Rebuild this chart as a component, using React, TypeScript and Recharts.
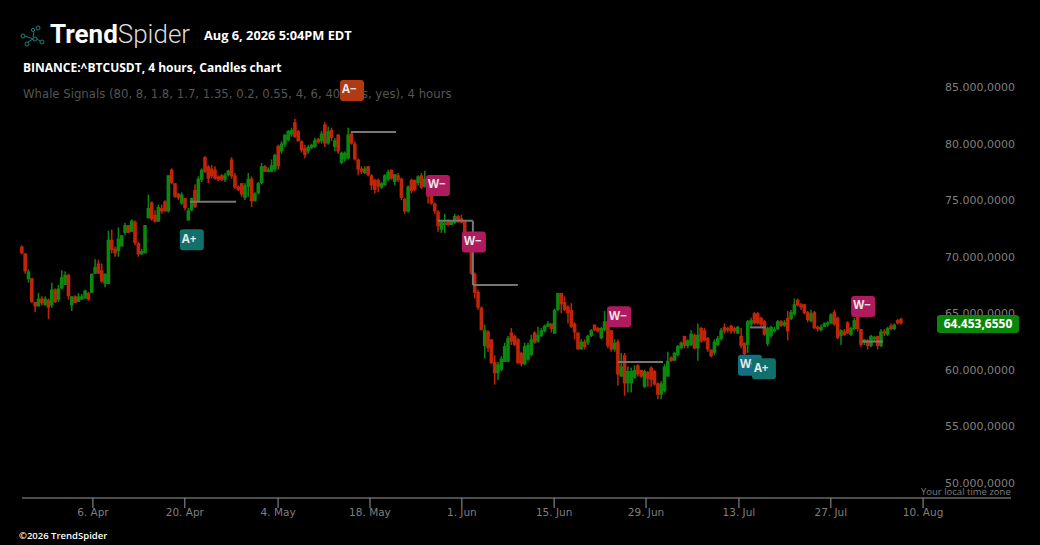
import React from 'react';
import {
  Bar, ComposedChart, ReferenceDot, ReferenceLine, XAxis, YAxis,
} from 'recharts';

// prices are in thousands, candle positions are indexes along the time axis
const opens = [
  70.9, 70.3, 68.0, 68.1, 66.0, 65.6, 66.3, 65.7, 66.2, 65.7, 67.1, 66.2, 67.2, 67.5, 68.4, 65.7, 66.5, 66.0, 66.2, 66.3, 66.8, 66.8,
  68.5, 69.4, 68.8, 67.6, 67.6, 71.5, 70.7, 70.5, 70.9, 72.1, 72.8, 72.2, 73.1, 71.2, 70.2, 70.3, 73.4, 74.8, 73.7, 73.1, 74.3, 74.9, 74.0,
  77.7, 76.5, 75.6, 74.7, 75.2, 73.2, 74.1, 75.9, 74.9, 76.8, 78.8, 78.0, 77.8, 77.7, 77.1, 77.2, 76.8, 77.2, 78.6, 77.2, 76.2, 76.5,
  75.2, 76.2, 76.9, 74.9, 75.6, 76.5, 78.0, 77.5, 77.5, 77.7, 79.8, 79.3, 79.9, 80.3, 80.8, 81.9, 81.1, 80.2, 79.6, 79.3, 79.6,
  79.7, 80.4, 80.2, 81.7, 80.0, 81.2, 79.7, 80.8, 78.3, 78.6, 78.7, 80.9, 80.0, 78.6, 77.8, 77.4, 78.0, 77.2, 76.8, 76.8, 76.1, 76.3, 76.8,
  77.7, 76.6, 77.2, 76.9, 75.1, 74.0, 76.8, 76.8, 76.5, 77.2, 76.2, 76.8, 75.5, 74.7, 74.0, 72.4, 72.8, 73.1, 72.8, 73.0, 73.6, 73.4,
  73.1, 71.8, 70.6, 68.5, 66.9, 65.5, 62.1, 63.4, 62.7, 60.7, 59.7, 60.0, 60.7, 60.7, 63.3, 63.0, 62.7, 61.5, 60.5, 60.9, 61.3, 63.3,
  62.5, 63.0, 63.4, 63.8, 64.1, 63.2, 65.3, 66.8, 66.0, 65.6, 65.3, 64.1, 63.3, 61.8, 62.5, 62.4, 63.0, 64.0, 63.7, 62.8, 63.5, 64.3,
  63.5, 61.8, 62.5, 59.4, 61.3, 58.8, 58.8, 59.3, 60.4, 60.0, 58.5, 59.8, 60.2, 59.9, 58.8, 57.8, 58.1, 59.4, 61.1, 60.8, 61.3, 61.9,
  63.0, 62.1, 62.2, 63.1, 61.9, 63.7, 63.5, 62.8, 61.8, 61.5, 62.2, 62.7, 63.8, 63.7, 63.9, 63.7, 63.2, 63.0, 62.4, 62.2, 64.0, 65.0,
  65.0, 64.6, 64.3, 62.3, 63.0, 63.4, 63.6, 64.3, 63.9, 64.6, 64.5, 64.9, 66.2, 65.8, 65.8, 65.1, 64.3, 65.1, 63.8, 63.5, 63.8, 64.0,
  64.1, 65.1, 64.6, 63.0, 63.4, 64.2, 63.1, 63.6, 64.7, 63.6, 62.4, 62.6, 62.1, 62.7, 63.0, 62.1, 63.4, 63.1, 63.9, 63.6, 64.4, 64.5,
];
const closes = [
  70.3, 68.7, 68.7, 66.0, 65.6, 66.3, 65.9, 66.3, 65.5, 67.1, 66.0, 67.2, 68.2, 68.4, 66.5, 66.5, 65.9, 66.5, 66.5, 67.0, 66.2, 68.5,
  69.1, 68.5, 67.8, 68.5, 71.5, 70.6, 70.3, 71.6, 71.9, 72.8, 72.1, 73.2, 71.2, 70.2, 70.5, 72.8, 74.3, 73.3, 73.1, 74.4, 74.0, 74.0, 77.2,
  76.5, 75.3, 75.2, 75.5, 74.3, 74.1, 75.2, 74.4, 76.9, 77.7, 77.5, 76.9, 77.1, 76.9, 76.8, 76.8, 77.2, 77.6, 77.1, 76.1, 75.9, 75.5,
  76.3, 76.9, 74.9, 75.6, 76.5, 78.0, 77.5, 77.7, 78.1, 79.0, 78.0, 80.0, 80.8, 81.1, 81.2, 80.6, 80.2, 79.4, 79.0, 79.7, 79.9,
  80.3, 80.1, 80.9, 80.0, 81.1, 80.5, 80.3, 79.3, 79.2, 79.2, 80.8, 80.0, 78.6, 77.7, 77.5, 77.8, 77.2, 76.3, 75.9, 76.2, 76.5, 77.2, 77.5,
  76.9, 77.3, 76.8, 75.2, 74.0, 76.2, 75.8, 75.9, 77.1, 76.1, 76.9, 75.3, 74.7, 74.0, 72.7, 73.1, 73.0, 72.8, 73.1, 73.6, 73.2, 73.0,
  71.8, 70.6, 68.5, 66.8, 65.5, 63.5, 63.5, 61.9, 60.6, 59.7, 60.5, 61.0, 62.1, 62.8, 62.5, 62.2, 60.6, 60.5, 62.1, 62.2, 62.7, 62.4,
  63.1, 63.5, 63.9, 64.1, 63.6, 65.3, 66.8, 65.8, 65.3, 65.0, 63.8, 63.3, 61.8, 62.5, 62.0, 63.0, 63.5, 63.5, 63.4, 63.7, 64.3, 62.1,
  61.8, 62.4, 59.6, 60.3, 58.8, 59.9, 59.9, 60.0, 59.6, 59.4, 59.9, 59.2, 59.1, 58.7, 57.8, 58.8, 60.3, 60.8, 60.8, 61.5, 62.1, 62.4,
  62.1, 62.6, 63.2, 61.9, 63.1, 62.5, 62.6, 61.8, 61.2, 62.5, 62.8, 63.5, 63.4, 63.5, 63.4, 63.4, 63.8, 62.1, 61.4, 64.3, 64.4, 64.1,
  64.1, 64.0, 63.1, 63.7, 63.8, 63.6, 64.3, 63.9, 64.2, 63.4, 65.1, 65.8, 65.7, 65.5, 65.0, 64.4, 65.0, 63.7, 63.6, 63.8, 64.1, 64.2,
  64.9, 64.0, 62.8, 63.5, 63.1, 63.2, 63.7, 64.4, 63.6, 62.2, 62.7, 62.1, 63.0, 62.9, 62.1, 63.4, 63.2, 63.7, 63.6, 64.0, 64.1, 64.1,
];
const highs = [
  71.0, 70.3, 68.9, 68.1, 66.0, 66.8, 66.5, 66.5, 66.3, 67.7, 67.2, 67.5, 68.8, 68.7, 68.5, 66.5, 66.6, 66.8, 66.7, 67.1, 66.9, 68.5,
  69.8, 69.7, 69.4, 68.5, 72.3, 72.4, 70.9, 72.6, 71.9, 73.0, 72.8, 73.3, 73.2, 71.3, 70.7, 72.8, 75.5, 74.9, 74.1, 74.6, 74.6, 75.0, 77.2,
  77.8, 76.5, 75.6, 75.7, 75.2, 74.3, 75.2, 76.4, 77.1, 77.8, 78.9, 78.1, 78.1, 78.0, 77.2, 77.3, 77.4, 77.7, 78.8, 77.4, 76.3, 76.5,
  76.5, 77.4, 77.1, 75.7, 76.6, 78.3, 78.1, 77.9, 78.6, 79.1, 79.9, 80.2, 80.8, 81.2, 81.4, 82.2, 81.2, 80.3, 79.9, 79.9, 80.0,
  80.5, 80.5, 81.1, 81.9, 81.5, 81.4, 80.5, 80.8, 79.3, 79.3, 81.4, 81.1, 80.2, 78.7, 78.0, 78.0, 78.0, 77.3, 76.9, 76.9, 76.6, 77.3, 77.7,
  77.7, 77.3, 77.4, 77.0, 75.2, 76.3, 76.9, 76.8, 77.2, 77.4, 77.6, 76.9, 75.5, 74.8, 74.1, 73.1, 73.8, 73.3, 73.2, 73.8, 73.7, 73.7,
  73.2, 71.9, 70.7, 68.6, 67.1, 65.6, 64.0, 63.5, 62.7, 61.3, 60.7, 61.2, 62.4, 63.0, 63.7, 63.1, 62.8, 61.6, 62.4, 62.4, 63.1, 63.4,
  63.8, 63.7, 64.0, 64.3, 64.1, 65.4, 66.8, 66.8, 66.5, 65.7, 65.9, 64.2, 63.3, 62.7, 62.7, 63.1, 63.6, 64.0, 63.8, 63.8, 65.2, 64.4,
  63.5, 62.7, 62.7, 61.5, 61.5, 60.3, 60.2, 60.4, 60.5, 60.0, 60.0, 59.9, 60.3, 60.0, 58.9, 59.0, 60.5, 61.6, 61.2, 61.6, 62.2, 62.5,
  63.0, 62.7, 63.5, 63.2, 64.1, 63.8, 63.7, 62.9, 61.8, 62.7, 63.0, 63.7, 64.1, 63.8, 64.0, 63.8, 63.9, 63.7, 62.4, 64.4, 64.6, 65.1,
  65.1, 64.7, 64.4, 63.8, 63.9, 63.8, 64.4, 64.4, 64.4, 65.2, 65.3, 66.3, 66.3, 65.9, 65.8, 65.2, 65.3, 65.2, 63.9, 64.0, 64.2, 64.3,
  65.0, 65.3, 64.7, 63.6, 63.6, 64.3, 63.8, 64.6, 64.7, 63.6, 62.7, 62.7, 63.1, 63.0, 63.0, 63.6, 63.6, 63.8, 64.1, 64.1, 64.5, 64.6,
];
const lows = [
  70.2, 68.5, 67.7, 65.9, 65.1, 65.7, 65.7, 65.7, 64.5, 65.5, 65.9, 66.0, 67.1, 67.5, 66.2, 65.2, 65.9, 66.2, 66.3, 66.5, 66.1, 66.8,
  68.5, 68.5, 67.7, 67.3, 67.7, 70.3, 70.0, 70.0, 70.9, 71.9, 72.1, 72.2, 71.0, 70.0, 70.2, 70.3, 73.4, 73.2, 73.0, 73.1, 73.8, 74.0, 73.9,
  76.4, 75.2, 75.0, 74.6, 74.1, 73.2, 74.0, 74.3, 74.8, 76.6, 77.4, 76.5, 76.9, 76.8, 76.7, 76.7, 76.6, 77.1, 76.9, 76.0, 75.8, 75.3,
  75.0, 75.3, 74.4, 74.9, 75.5, 76.4, 77.5, 77.5, 77.5, 77.5, 77.7, 79.1, 79.7, 80.2, 80.6, 80.5, 80.2, 79.2, 78.7, 79.1, 79.5,
  79.6, 80.0, 80.0, 79.7, 79.9, 80.2, 79.3, 79.1, 78.2, 78.4, 78.6, 79.9, 78.5, 77.2, 77.3, 77.3, 77.1, 75.9, 75.6, 75.7, 76.0, 76.3, 76.7,
  76.8, 76.3, 76.6, 75.0, 73.8, 73.9, 75.6, 75.8, 76.3, 76.0, 76.1, 74.7, 74.6, 73.8, 72.2, 72.1, 72.1, 72.7, 72.8, 72.9, 73.0, 73.0,
  71.7, 70.5, 68.4, 66.3, 65.3, 63.5, 61.0, 61.6, 60.5, 58.7, 59.1, 59.9, 60.7, 60.7, 62.2, 62.1, 60.5, 60.3, 60.4, 60.8, 61.2, 62.3,
  62.4, 62.9, 63.3, 63.8, 63.3, 63.2, 65.2, 65.0, 65.2, 64.1, 63.7, 62.7, 61.8, 61.8, 61.8, 62.2, 62.9, 63.4, 63.3, 62.7, 63.4, 61.9,
  61.6, 61.6, 58.6, 59.4, 57.7, 58.0, 58.0, 59.2, 59.4, 59.3, 58.4, 58.5, 58.5, 58.6, 57.4, 57.4, 58.0, 59.4, 60.7, 60.8, 61.2, 61.8,
  61.9, 61.9, 62.1, 61.8, 60.8, 62.4, 62.5, 61.6, 61.1, 61.3, 62.1, 62.6, 63.2, 63.3, 63.2, 63.2, 63.2, 61.9, 61.3, 61.5, 63.8, 64.0,
  64.0, 63.8, 63.0, 62.1, 62.8, 63.3, 63.5, 63.8, 63.8, 62.6, 64.4, 64.8, 65.6, 65.3, 64.9, 64.2, 64.2, 63.6, 63.4, 63.4, 63.8, 63.8,
  64.1, 63.9, 62.7, 62.2, 63.0, 63.2, 63.0, 63.5, 63.4, 62.0, 62.2, 61.8, 62.0, 62.5, 61.8, 62.0, 63.0, 63.0, 63.5, 63.5, 64.0, 64.0,
];

const tickIndexes = [21.3, 48.9, 76.9, 104.5, 132.1, 159.8, 187.4, 215.3, 242.9, 270.6];
const tickLabels = ['6. Apr', '20. Apr', '4. May', '18. May', '1. Jun', '15. Jun', '29. Jun', '13. Jul', '27. Jul', '10. Aug'];
const priceTicks = [50, 55, 60, 65, 70, 75, 80, 85];

// signal levels: [start index, end index, price start, price end]
const levelSegments = [
  [50.5, 64.3, 74.85, 74.85],
  [98.8, 112.3, 81.03, 81.03],
  [124.9, 135.4, 73.17, 73.17],
  [135.4, 135.4, 73.17, 67.5],
  [135.4, 148.9, 67.5, 67.5],
  [179, 192.5, 60.7, 60.7],
  [218.6, 223.4, 63.75, 63.75],
  [252.3, 258.6, 62.5, 62.5],
];

const badgeLabels = ['A\u2212', 'A+', 'W\u2212', 'W\u2212', 'W\u2212', 'W\u2212', 'W+', 'A+'];
const badgeIndexes = [99.1, 51, 124.9, 135.7, 179.3, 252.6, 218.6, 222.8];
const badgePrices = [84.7, 71.5, 76.3, 71.3, 64.7, 65.6, 60.4, 60.1];
const badgeColors = ['#b23a12', '#12706a', '#b01a5e', '#b01a5e', '#b01a5e', '#b01a5e', '#146f85', '#12706a'];

const candles = closes.map((close, i) => ({
  index: i,
  open: opens[i],
  close,
  range: [Math.min(lows[i], opens[i], close), Math.max(highs[i], opens[i], close)],
}));

const UI_FONT = '"Open Sans", sans-serif';
const AXIS_FONT = '"DejaVu Sans", sans-serif';
const BODY_WIDTH = 3.6;

const CandleShape = (props: any) => {
  const { x, y, width, height, payload } = props;
  const [low, high] = payload.range;
  const perUnit = height / (high - low || 1);
  const top = y + (high - Math.max(payload.open, payload.close)) * perUnit;
  const bodyHeight = Math.max(Math.abs(payload.open - payload.close) * perUnit, 2);
  const color = payload.close >= payload.open ? '#0b870f' : '#c02409';
  const mid = x + width / 2;
  return (
    <g>
      <rect x={mid - 0.75} y={y} width={1.5} height={height} fill={color} />
      <rect x={mid - BODY_WIDTH / 2} y={top} width={BODY_WIDTH} height={bodyHeight} fill={color} />
    </g>
  );
};

const Badge = (props: any) => {
  const { cx, cy, text, color } = props;
  return (
    <g>
      <rect x={cx - 12} y={cy - 10.5} width={24} height={21} rx={3} fill={color} />
      <text x={cx - 10} y={cy + 3} fontSize={11.5} fontWeight={700} fontFamily={UI_FONT} fill="#e8e8e8">{text}</text>
    </g>
  );
};

const TopText = ({ left, top, size, weight, color, font = UI_FONT, children }: any) => (
  <div style={{
    position: 'absolute', left, top, fontSize: size, fontWeight: weight, color,
    fontFamily: font, whiteSpace: 'nowrap', lineHeight: 1,
  }}>{children}</div>
);

const Logo = () => (
  <svg width={30} height={30} style={{ position: 'absolute', left: 18, top: 22 }} fill="none" stroke="#1f7f78" strokeWidth={1}>
    <path d="M7 14 L15 17 M15 17 L10 20 M16 10 L15 15 M19 17 L22 19" />
    <circle cx={5} cy={14} r={2} />
    <circle cx={9} cy={22} r={2} />
    <circle cx={15} cy={8} r={1.6} />
    <circle cx={20} cy={6} r={2} />
    <circle cx={17} cy={17} r={2} />
    <circle cx={24} cy={20} r={2} />
  </svg>
);

export default function App() {
  return (
    <div style={{ position: 'fixed', left: 0, top: 0, width: 1040, height: 545, background: '#000', overflow: 'hidden' }}>
      <Logo />
      <div style={{ position: 'absolute', left: 50, top: 20, fontSize: 26, color: '#fff', fontFamily: 'Roboto, sans-serif', lineHeight: 1.15, whiteSpace: 'nowrap' }}>
        <span style={{ fontWeight: 700 }}>Trend</span><span style={{ fontWeight: 300, color: '#ddd' }}>Spider</span>
      </div>
      <TopText left={204} top={29} size={12.8} weight={700} color="#fff">Aug 6, 2026 5:04PM EDT</TopText>
      <TopText left={23} top={62} size={12} weight={700} color="#fff">BINANCE:^BTCUSDT, 4 hours, Candles chart</TopText>
      <TopText left={23} top={89} size={11.7} weight={400} color="#555" font={AXIS_FONT}>Whale Signals (80, 8, 1.8, 1.7, 1.35, 0.2, 0.55, 4, 6, 40, yes, yes), 4 hours</TopText>

      <div style={{ position: 'absolute', left: 0, top: 0 }}>
        <ComposedChart
          width={1040}
          height={545}
          data={candles}
          margin={{ top: 60, right: 29, bottom: 0, left: 22 }}
        >
          <XAxis
            dataKey="index"
            type="number"
            domain={[0, 297]}
            ticks={tickIndexes}
            tickFormatter={(v: number) => tickLabels[tickIndexes.indexOf(v)]}
            height={47}
            interval={0}
            stroke="#999"
            tickSize={10}
            tick={{ fill: '#7f7f7f', fontSize: 10.5, fontFamily: AXIS_FONT }}
            tickMargin={1}
          />
          <YAxis
            orientation="right"
            mirror
            type="number"
            domain={[48.67, 87.39]}
            ticks={priceTicks}
            tickFormatter={(v: number) => `${v}.000,0000`}
            axisLine={false}
            tickLine={false}
            tick={{ fill: '#7f7f7f', fontSize: 11, fontFamily: AXIS_FONT, dx: 12 }}
          />
          <Bar dataKey="range" barSize={4} isAnimationActive={false} shape={<CandleShape />} />
          {levelSegments.map(([x1, x2, y1, y2], i) => (
            <ReferenceLine
              key={i}
              segment={[{ x: x1, y: y1 }, { x: x2, y: y2 }]}
              stroke="#777"
              strokeWidth={2}
            />
          ))}
          {badgeLabels.map((label, i) => (
            <ReferenceDot
              key={i}
              x={badgeIndexes[i]}
              y={badgePrices[i]}
              ifOverflow="visible"
              shape={<Badge text={label} color={badgeColors[i]} />}
            />
          ))}
        </ComposedChart>
      </div>

      <div style={{
        position: 'absolute', left: 937, top: 315, width: 82, height: 18, borderRadius: 3, background: '#0a860a',
        color: '#fff', fontFamily: UI_FONT, fontWeight: 700, fontSize: 12, lineHeight: '18px', textAlign: 'center',
      }}>64.453,6550</div>
      <TopText left={921} top={487} size={9.5} weight={400} color="#7f7f7f">Your local time zone</TopText>
      <TopText left={19} top={531} size={9.5} weight={600} color="#fff">©2026 TrendSpider</TopText>
    </div>
  );
}
